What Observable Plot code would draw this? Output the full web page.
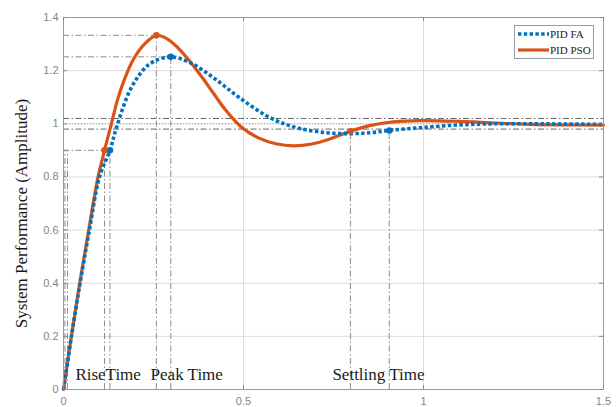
<!DOCTYPE html>
<html><head><meta charset="utf-8">
<script src="https://cdn.jsdelivr.net/npm/d3@7"></script>
<script src="https://cdn.jsdelivr.net/npm/@observablehq/plot@0.6"></script>
<style>
body{margin:0;background:#fff}
#wrap{position:relative;width:616px;height:407px}
.legend{position:absolute;left:514px;top:25px;width:80px;height:34px;border:1px solid #9a9a9a;background:#fff;font-family:"Liberation Serif",serif;font-size:11px;color:#222;box-sizing:border-box}
.legend .row{position:absolute;left:2px;height:14px;display:flex;align-items:center}
.legend svg{display:block}
</style></head><body><div id="wrap"></div>
<script>
// ---- data ----
const seriesNames = ["PID FA", "PID PSO"];
const seriesColors = ["#0072BD", "#D95319"];

const faTime  = [0, 0.022, 0.046, 0.072, 0.1, 0.129, 0.148, 0.186, 0.223, 0.25, 0.298, 0.353, 0.417, 0.49, 0.575, 0.649, 0.732, 0.797, 0.85, 0.905, 0.99, 1.1, 1.2, 1.3, 1.4, 1.5];
const faValue = [0, 0.2, 0.4, 0.6, 0.8, 0.9, 0.99, 1.13, 1.205, 1.234, 1.252, 1.229, 1.173, 1.097, 1.022, 0.985, 0.966, 0.963, 0.966, 0.975, 0.985, 0.996, 1.0, 1.0, 0.999, 0.998];

const psoTime  = [0, 0.022, 0.045, 0.07, 0.096, 0.114, 0.133, 0.15, 0.17, 0.195, 0.225, 0.258, 0.29, 0.32, 0.353, 0.385, 0.418, 0.45, 0.492, 0.54, 0.59, 0.64, 0.69, 0.74, 0.797, 0.85, 0.917, 0.99, 1.1, 1.2, 1.3, 1.4, 1.5];
const psoValue = [0, 0.2, 0.4, 0.6, 0.8, 0.9, 1.0, 1.09, 1.17, 1.245, 1.30, 1.333, 1.318, 1.283, 1.232, 1.175, 1.112, 1.052, 0.99, 0.948, 0.925, 0.917, 0.924, 0.943, 0.972, 0.993, 1.007, 1.012, 1.009, 1.003, 0.998, 0.996, 0.995];

// step-response metrics (FA, PSO)
const rise10Time = [0.011, 0.004];
const rise90Time = [0.129, 0.114];
const riseLevel = 0.9;
const peakTime = [0.298, 0.258];
const peakValue = [1.252, 1.333];
const settleTime = [0.905, 0.797];
const settleValue = [0.975, 0.972];
const settleBand = [0.98, 1.02];
const settleLevel = 0.98;

const xTicks = [0, 0.5, 1, 1.5];
const yTicks = [0, 0.2, 0.4, 0.6, 0.8, 1, 1.2, 1.4];
const annotations = ["RiseTime", "Peak Time", "Settling Time"];
const annotationX = [0.033, 0.242, 0.747];
const yLabel = "System Performance (Amplitude)";

// ---- build tables ----
const fa = faTime.map((t, i) => ({t, v: faValue[i]}));
const pso = psoTime.map((t, i) => ({t, v: psoValue[i]}));
const idx = [0, 1];
const markers = idx.flatMap(i => [
  {s: i, t: rise90Time[i], v: riseLevel},
  {s: i, t: peakTime[i], v: peakValue[i]},
  {s: i, t: settleTime[i], v: settleValue[i]}
]);
const vRefs = idx.flatMap(i => [
  {t: rise10Time[i], top: riseLevel},
  {t: rise90Time[i], top: riseLevel},
  {t: peakTime[i], top: peakValue[i]},
  {t: settleTime[i], top: settleLevel}
]);
const hRefs = [
  ...idx.map(i => ({v: peakValue[i], end: peakTime[i]})),
  {v: riseLevel, end: d3.max(rise90Time)}
];

const W = 616, H = 407, mL = 63, mR = 13, mT = 17, mB = 18;
const iW = W - mL - mR, iH = H - mT - mB, tk = 4;
const fmt = d3.format("~g");
const dashDot = "6,2.5,1.5,2.5";
const refColor = "#555";
const tickColor = "#8a8a8a";

const chart = Plot.plot({
  width: W, height: H,
  marginLeft: mL, marginRight: mR, marginTop: mT, marginBottom: mB,
  x: {domain: [0, 1.5]},
  y: {domain: [0, 1.4]},
  style: {background: "#fff"},
  marks: [
    Plot.gridX(xTicks.slice(1, -1), {stroke: "#dcdcdc", strokeOpacity: 1}),
    Plot.gridY(yTicks.slice(1, -1), {stroke: "#dcdcdc", strokeOpacity: 1}),
    Plot.ruleY([1], {stroke: "#999", strokeDasharray: "1,2", strokeWidth: 0.8}),
    Plot.ruleY(settleBand, {stroke: refColor, strokeDasharray: dashDot, strokeWidth: 0.9}),
    Plot.ruleX(vRefs, {x: "t", y1: 0, y2: "top", stroke: refColor, strokeDasharray: dashDot, strokeWidth: 0.8, strokeOpacity: 0.85}),
    Plot.ruleY(hRefs, {y: "v", x1: 0, x2: "end", stroke: refColor, strokeDasharray: dashDot, strokeWidth: 0.8, strokeOpacity: 0.85}),
    Plot.line(pso, {x: "t", y: "v", stroke: seriesColors[1], strokeWidth: 3.2, curve: "catmull-rom"}),
    Plot.line(fa, {x: "t", y: "v", stroke: seriesColors[0], strokeWidth: 3.6, strokeDasharray: "3.4,2.4", strokeLinecap: "butt", curve: "catmull-rom"}),
    Plot.dot(markers, {x: "t", y: "v", r: 3.3, fill: d => seriesColors[d.s], stroke: "none"}),
    Plot.frame({stroke: "#9a9a9a"}),
    Plot.tickX(xTicks, {x: d => d, insetTop: iH - tk, stroke: tickColor}),
    Plot.tickX(xTicks, {x: d => d, insetBottom: iH - tk, stroke: tickColor}),
    Plot.tickY(yTicks, {y: d => d, insetRight: iW - tk, stroke: tickColor}),
    Plot.tickY(yTicks, {y: d => d, insetLeft: iW - tk, stroke: tickColor}),
    Plot.axisX({ticks: xTicks, tickSize: 0, tickPadding: 8, tickFormat: fmt, fontSize: 11, fill: "#858585", fontFamily: "Liberation Sans", label: null}),
    Plot.axisY({ticks: yTicks, tickSize: 0, tickPadding: 5, tickFormat: fmt, fontSize: 11, fill: "#858585", fontFamily: "Liberation Sans", label: null}),
    Plot.text(annotations, {x: (d, i) => annotationX[i], y: 0.034, text: d => d, textAnchor: "start", lineAnchor: "bottom", fontSize: 17, fontFamily: "Liberation Serif", fill: "#1a1a1a"}),
    Plot.text([yLabel], {frameAnchor: "left", rotate: -90, dx: -42, dy: 10, text: d => d, textAnchor: "middle", lineAnchor: "middle", fontSize: 17, fontFamily: "Liberation Serif", fill: "#1a1a1a"})
  ]
});
const wrap = document.getElementById("wrap");
wrap.appendChild(chart);

// legend
const leg = document.createElement("div");
leg.className = "legend";
seriesNames.forEach((name, i) => {
  const row = document.createElement("div");
  row.className = "row";
  row.style.top = (i === 0 ? 1 : 17) + "px";
  const dash = i === 0 ? 'stroke-dasharray="3.4,2.4"' : "";
  row.innerHTML = `<svg width="32" height="14"><line x1="1" y1="7" x2="32" y2="7" stroke="${seriesColors[i]}" stroke-width="${i === 0 ? 3.6 : 3.2}" ${dash}/></svg><span style="margin-left:1px">${name}</span>`;
  leg.appendChild(row);
});
wrap.appendChild(leg);
</script>
</body></html>
